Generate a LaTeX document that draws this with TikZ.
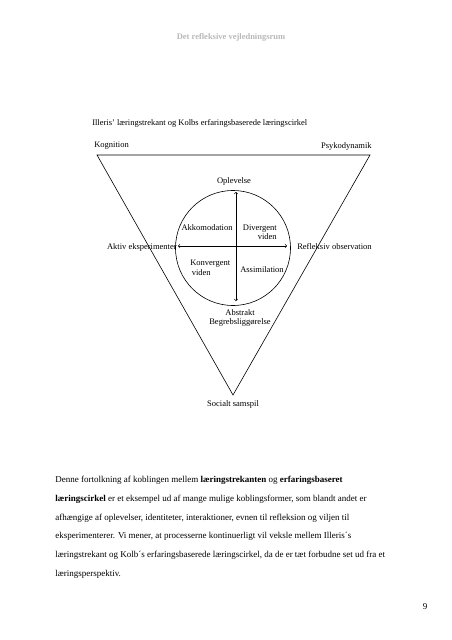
\documentclass[tikz,border=0pt]{standalone}
\usepackage{xcolor}
\usepackage{fontspec}
\setmainfont{Liberation Serif}
\usepackage{tikz}
\usetikzlibrary{shapes,arrows,positioning}

\begin{document}
\begin{tikzpicture}[x=1pt, y=-1pt, line width=0.6pt]
    % Define styles
    \tikzstyle{label} = [inner sep=0pt, font=\fontsize{8.5}{9.5}\selectfont]
    \tikzstyle{header} = [inner sep=0pt, font=\fontsize{8.5}{9.5}\selectfont\bfseries, text=black!28]
    \tikzstyle{body} = [inner sep=0pt, align=left, font=\fontsize{9}{18.7}\selectfont]

    \useasboundingbox (0,0) rectangle (452,640);

    % Nodes
    \node[header] (header) at (231,37) {Det refleksive vejledningsrum};
    \node[label, anchor=west] (title) at (92,123) {Illeris' læringstrekant og Kolbs erfaringsbaserede læringscirkel};
    \node[label, anchor=west] (kognition) at (94,146) {Kognition};
    \node[label, anchor=east] (psykodynamik) at (372,146) {Psykodynamik};

    \coordinate (top_left) at (97,155);
    \coordinate (top_right) at (370,155);
    \coordinate (bottom) at (233,395);
    \node[circle, draw, minimum size=115pt, inner sep=0pt] (kolb) at (233,248) {};

    \node[label] (oplevelse) at (234,181) {Oplevelse};
    \node[label] (akkomodation) at (207,228) {Akkomodation};
    \node[label, align=right, anchor=east] (divergent) at (277,232) {Divergent\\viden};
    \node[label, anchor=east] (aktiv) at (177,247) {Aktiv eksperimenter};
    \node[label, anchor=west] (refleksiv) at (297,247) {Refleksiv observation};
    \node[label, align=left, anchor=west] (konvergent) at (190,268) {Konvergent\\\hspace{1.5pt}viden};
    \node[label] (assimilation) at (262,270) {Assimilation};
    \node[label, align=center] (abstrakt) at (240,318) {Abstrakt\\Begrebsliggørelse};
    \node[label] (socialt) at (233,404) {Socialt samspil};

    \coordinate (arrow_top) at (236,192);
    \coordinate (arrow_bottom) at (236,301);
    \coordinate (arrow_left) at (178,246);
    \coordinate (arrow_right) at (287,246);

    \node[body, anchor=north west] (tekst) at (55,476) {Denne fortolkning af koblingen mellem \textbf{læringstrekanten} og \textbf{erfaringsbaseret}\\
    \textbf{læringscirkel} er et eksempel ud af mange mulige koblingsformer, som blandt andet er\\
    afhængige af oplevelser, identiteter, interaktioner, evnen til refleksion og viljen til\\
    eksperimenterer. Vi mener, at processerne kontinuerligt vil veksle mellem Illeris´s\\
    læringstrekant og Kolb´s erfaringsbaserede læringscirkel, da de er tæt forbudne set ud fra et\\
    læringsperspektiv.};
    \node[body] (side) at (425,607) {9};

    % Connections
    \draw (top_left) -- (top_right) -- (bottom) -- cycle;
    \draw[<->] (arrow_bottom) -- (arrow_top);
    \draw[<->] (arrow_left) -- (arrow_right);
\end{tikzpicture}
\end{document}
